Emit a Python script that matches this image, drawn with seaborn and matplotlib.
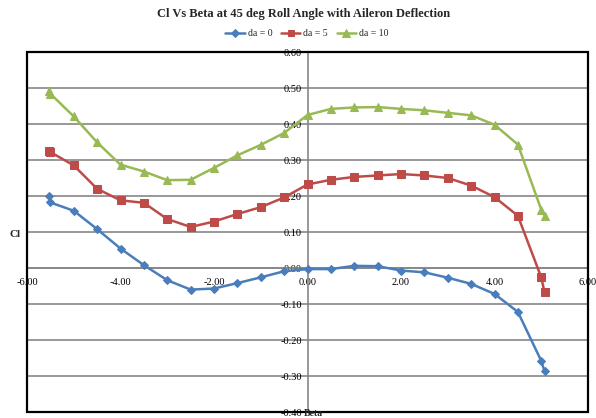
import matplotlib
matplotlib.use("Agg")
import matplotlib.pyplot as plt
from matplotlib.patches import Rectangle
from matplotlib.ticker import FormatStrFormatter, MultipleLocator
import numpy as np
import pandas as pd
import seaborn as sns

# Sideslip angle (deg) and rolling-moment coefficient for each aileron deflection
beta = [-5.52, -5.5, -5.0, -4.5, -4.0, -3.5, -3.0, -2.5, -2.0, -1.5, -1.0, -0.5,
        0.0, 0.5, 1.0, 1.5, 2.0, 2.5, 3.0, 3.5, 4.0, 4.5, 5.0, 5.07]
cl_da0 = [0.201, 0.182, 0.159, 0.108, 0.054, 0.008, -0.034, -0.060, -0.057, -0.042,
          -0.026, -0.009, -0.003, -0.003, 0.006, 0.005, -0.007, -0.012, -0.027,
          -0.044, -0.072, -0.122, -0.258, -0.287]
cl_da5 = [0.325, 0.322, 0.285, 0.220, 0.188, 0.181, 0.136, 0.114, 0.129, 0.150,
          0.169, 0.196, 0.232, 0.245, 0.253, 0.257, 0.261, 0.257, 0.250, 0.229,
          0.197, 0.145, -0.026, -0.068]
cl_da10 = [0.492, 0.484, 0.421, 0.349, 0.287, 0.268, 0.244, 0.245, 0.278, 0.313,
           0.342, 0.375, 0.425, 0.442, 0.446, 0.447, 0.442, 0.438, 0.431, 0.424,
           0.398, 0.343, 0.162, 0.145]
series_names = ["da = 0", "da = 5", "da = 10"]

df = pd.concat([
    pd.DataFrame({"Beta": beta, "Cl": vals, "series": name})
    for name, vals in zip(series_names, [cl_da0, cl_da5, cl_da10])
], ignore_index=True)

sns.set_style("white")
plt.rcParams["font.family"] = ["Liberation Serif", "DejaVu Serif"]

palette = {"da = 0": "#4A7EBB", "da = 5": "#BE4B48", "da = 10": "#98B954"}
markers = {"da = 0": "D", "da = 5": "s", "da = 10": "^"}
msizes = {"da = 0": 4.2, "da = 5": 5.2, "da = 10": 5.8}

fig = plt.figure(figsize=(5.96, 4.18), dpi=100)
ax = fig.add_axes([27 / 596, 1 - 412 / 418, 561 / 596, 360 / 418])

for name in series_names:
    sub = df[df["series"] == name]
    sns.lineplot(data=sub, x="Beta", y="Cl", ax=ax, sort=False, estimator=None,
                 color=palette[name], linewidth=1.8, marker=markers[name],
                 markersize=msizes[name], markeredgecolor=palette[name],
                 label=name, zorder=3)

ax.set_xlim(-6, 6)
ax.set_ylim(-0.4, 0.6)
ax.xaxis.set_major_locator(MultipleLocator(2))
ax.yaxis.set_major_locator(MultipleLocator(0.1))
ax.xaxis.set_major_formatter(FormatStrFormatter("%.2f"))
ax.yaxis.set_major_formatter(FormatStrFormatter("%.2f"))

# horizontal gridlines
ax.grid(axis="y", color="#868686", linewidth=1.2, zorder=0)
ax.grid(axis="x", visible=False)

# axes cross at the origin
for side in ("top", "right"):
    ax.spines[side].set_visible(False)
ax.spines["left"].set_position(("data", 0))
ax.spines["bottom"].set_position(("data", 0))
for side in ("left", "bottom"):
    ax.spines[side].set_color("#868686")
    ax.spines[side].set_linewidth(1.2)
    ax.spines[side].set_zorder(1)

ax.tick_params(axis="both", labelsize=7.5, colors="#868686", labelcolor="black",
               length=3, width=1)
ax.tick_params(axis="y", direction="out", pad=1)
ax.tick_params(axis="x", direction="out", pad=4)

# black plot-area border
ax.add_patch(Rectangle((0, 0), 1, 1, transform=ax.transAxes, fill=False,
                       edgecolor="black", linewidth=1.6, clip_on=False, zorder=5))

ax.set_xlabel("")
ax.set_ylabel("")
fig.text(15 / 596, 1 - 234 / 418, "Cl", fontsize=8, fontweight="bold",
         ha="center", va="center")
fig.text(313 / 596, 0.0, "Beta", fontsize=7, fontweight="bold",
         ha="center", va="bottom")

fig.suptitle("Cl Vs Beta at 45 deg Roll Angle with Aileron Deflection",
             x=0.51, y=1 - 14 / 418, fontsize=9, fontweight="bold",
             va="center")

ax.get_legend().remove()
handles, labels = ax.get_legend_handles_labels()
fig.legend(handles, labels, loc="center", bbox_to_anchor=(0.515, 1 - 34 / 418),
           ncol=3, frameon=False, fontsize=7, handlelength=2.0,
           columnspacing=0.9, handletextpad=0.3, markerscale=0.9)

fig.savefig("out.png", dpi=100)
